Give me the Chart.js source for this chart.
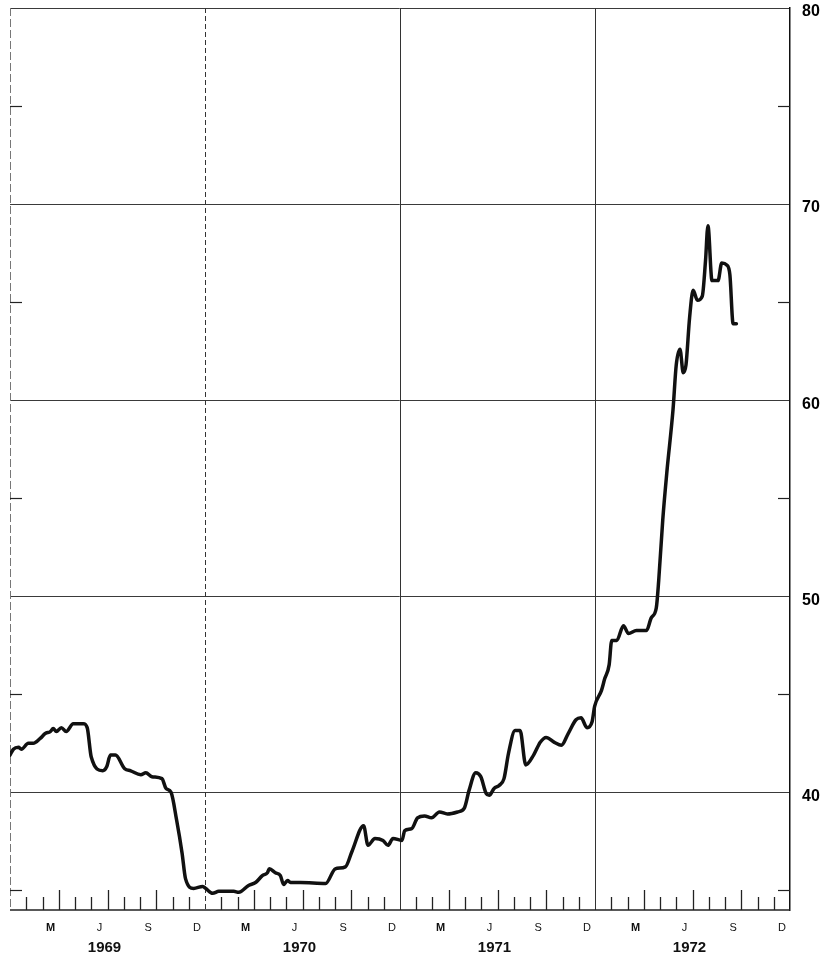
<!DOCTYPE html>
<html>
<head>
<meta charset="utf-8">
<script src="https://cdn.jsdelivr.net/npm/chart.js@4.4.0/dist/chart.umd.min.js"></script>
<style>
  html, body { margin: 0; padding: 0; background: #fff; }
  #wrap { width: 833px; height: 957px; }
</style>
</head>
<body>
<div id="wrap"><canvas id="chart"></canvas></div>
<script>
// x = months since 1 Jan 1969 (48 = end of 1972)
const months = [
  0, 0.21, 0.52, 0.7, 1.13, 1.43, 1.86, 2.17, 2.48, 2.66, 2.85, 3.16, 3.46, 3.89, 4.51, 4.75,
  5.0, 5.71, 5.95, 6.18, 6.49, 7.06, 7.43, 8.05, 8.36, 8.73, 9.35, 9.6, 9.91, 10.25, 10.59, 10.8,
  11.3, 11.86, 12.04, 12.47, 12.85, 13.77, 14.08, 14.68, 15.11, 15.53, 15.84, 15.96, 16.33, 16.64,
  16.84, 17.08, 17.26, 17.88, 19.42, 20.02, 20.64, 21.05, 21.76, 22.03, 22.46, 22.95, 23.26, 23.57,
  24.12, 24.29, 24.72, 25.08, 25.51, 25.94, 26.43, 26.92, 27.54, 27.96, 28.25, 28.66, 28.97, 29.3,
  29.49, 29.79, 30.1, 30.4, 30.68, 31.08, 31.39, 31.74, 32.22, 32.63, 32.99, 33.5, 33.93, 34.35,
  34.83, 35.14, 35.51, 35.82, 35.98, 36.4, 36.6, 36.87, 37.03, 37.34, 37.75, 38.06, 38.55, 39.17,
  39.46, 39.77, 39.92, 40.17, 40.43, 40.8, 41.0, 41.23, 41.43, 41.6, 41.82, 42.04, 42.3, 42.6,
  42.8, 42.95, 43.2, 43.57, 43.8, 44.1, 44.3, 44.5, 44.7
];
const prices = [
  41.9, 42.2, 42.3, 42.2, 42.5, 42.5, 42.75, 43.0, 43.1, 43.25, 43.1, 43.3, 43.1, 43.5, 43.5, 43.3,
  41.8, 41.1, 41.3, 41.9, 41.9, 41.2, 41.1, 40.9, 41.0, 40.8, 40.7, 40.2, 40.0, 38.6, 36.9, 35.6,
  35.1, 35.2, 35.1, 34.85, 34.95, 34.95, 34.9, 35.25, 35.4, 35.75, 35.9, 36.1, 35.9, 35.75,
  35.3, 35.5, 35.4, 35.4, 35.35, 36.1, 36.2, 37.0, 38.3, 37.3, 37.65, 37.55, 37.3, 37.65,
  37.55, 38.05, 38.15, 38.7, 38.8, 38.7, 39.0, 38.9, 39.0, 39.2, 40.1, 41.0, 40.8, 39.95,
  39.85, 40.2, 40.35, 40.7, 42.0, 43.15, 43.15, 41.4, 41.9, 42.55, 42.8, 42.55, 42.4, 43.0,
  43.7, 43.8, 43.3, 43.6, 44.4, 45.2, 45.8, 46.5, 47.75, 47.75, 48.5, 48.1, 48.25, 48.25,
  48.9, 49.4, 50.8, 53.9, 56.4, 59.5, 61.8, 62.6, 61.4, 61.8, 64.2, 65.6, 65.1, 65.3,
  67.1, 68.9, 66.1, 66.1, 67.0, 66.9, 66.4, 63.9, 63.9
];

const yTicks = [40, 50, 60, 70, 80];
const yMinorTicks = [35, 45, 55, 65, 75];
const yearLabels = ['1969', '1970', '1971', '1972'];
const monthLetters = ['M', 'J', 'S', 'D'];   // March, June, September, December
const monthLetterIndex = [2, 5, 8, 11];

const FONT = '"Liberation Sans", Arial, sans-serif';

function line(ctx, x1, y1, x2, y2) {
  ctx.beginPath();
  ctx.moveTo(x1, y1);
  ctx.lineTo(x2, y2);
  ctx.stroke();
}

// frame, inner ticks and the bottom labels, all placed through the chart scales
const chartFrame = {
  id: 'chartFrame',
  beforeDatasetsDraw(chart) {
    const { ctx, chartArea: a, scales: { x, y } } = chart;
    ctx.save();

    // year separators
    ctx.strokeStyle = '#333';
    ctx.lineWidth = 1;
    for (let m = 12; m < 48; m += 12) {
      const px = Math.round(x.getPixelForValue(m)) + 0.5;
      ctx.setLineDash(m === 12 ? [5, 3] : []);
      line(ctx, px, a.top, px, a.bottom);
    }
    ctx.setLineDash([]);

    // left border (faint in the scan)
    ctx.strokeStyle = '#777';
    ctx.setLineDash([8, 3]);
    line(ctx, a.left + 0.5, a.top, a.left + 0.5, a.bottom);
    ctx.setLineDash([]);

    // bottom axis
    ctx.strokeStyle = '#222';
    ctx.lineWidth = 1.3;
    line(ctx, a.left, a.bottom, a.right, a.bottom);

    // month ticks pointing up from the bottom axis
    for (let m = 1; m < 48; m++) {
      if (m % 12 === 0) continue;
      const px = Math.round(x.getPixelForValue(m)) + 0.5;
      const len = m % 3 === 0 ? 20 : 13;
      line(ctx, px, a.bottom, px, a.bottom - len);
    }

    // minor value ticks on both sides
    ctx.lineWidth = 1.2;
    yMinorTicks.forEach(v => {
      const py = Math.round(y.getPixelForValue(v)) + 0.5;
      line(ctx, a.left, py, a.left + 12, py);
      line(ctx, a.right - 12, py, a.right, py);
    });

    ctx.restore();
  },
  afterDraw(chart) {
    const { ctx, chartArea: a, scales: { x } } = chart;
    ctx.save();
    ctx.fillStyle = '#111';
    ctx.textAlign = 'center';
    ctx.textBaseline = 'middle';

    yearLabels.forEach((label, i) => {
      monthLetters.forEach((letter, j) => {
        const px = x.getPixelForValue(i * 12 + monthLetterIndex[j] + 0.5);
        ctx.font = (letter === 'M' ? 'bold ' : '') + '11px ' + FONT;
        ctx.fillText(letter, px, a.bottom + 18);
      });
      ctx.font = 'bold 15px ' + FONT;
      ctx.fillText(label, x.getPixelForValue(i * 12 + 6) - 3, a.bottom + 38);
    });

    ctx.restore();
  }
};

new Chart(document.getElementById('chart'), {
  type: 'line',
  data: {
    datasets: [{
      data: months.map((m, i) => ({ x: m, y: prices[i] })),
      borderColor: '#111',
      borderWidth: 3.5,
      pointRadius: 0,
      tension: 0.25,
      cubicInterpolationMode: 'monotone',
      borderJoinStyle: 'round',
      borderCapStyle: 'round',
      fill: false,
    }],
  },
  options: {
    responsive: true,
    maintainAspectRatio: false,
    animation: false,
    layout: {
      padding: { top: 8, left: 10, bottom: 47, right: 0 },
    },
    plugins: {
      legend: { display: false },
      tooltip: { enabled: false },
    },
    scales: {
      x: {
        type: 'linear',
        min: 0,
        max: 48,
        display: false,
      },
      y: {
        position: 'right',
        min: 34,
        max: 80,
        afterBuildTicks: scale => {
          scale.ticks = yTicks.map(v => ({ value: v }));
        },
        afterFit: scale => {
          scale.width = 43;
          scale.paddingTop = 0;
          scale.paddingBottom = 0;
        },
        ticks: {
          color: '#000',
          padding: 12,
          labelOffset: 4,
          font: { family: FONT, size: 16, weight: 'bold' },
        },
        grid: {
          color: '#3a3a3a',
          lineWidth: 1,
          drawTicks: false,
        },
        border: {
          display: true,
          color: '#111',
          width: 1.5,
        },
      },
    },
  },
  plugins: [chartFrame],
});
</script>
</body>
</html>
